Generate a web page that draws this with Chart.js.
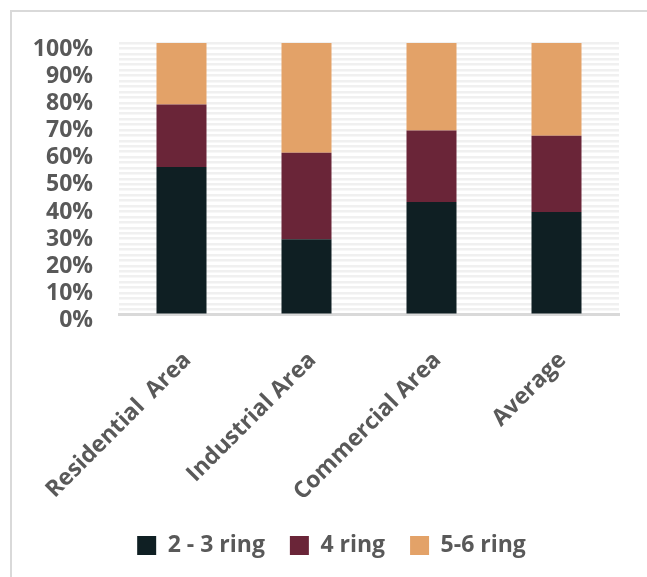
<!DOCTYPE html><html lang="en"><head>
    <meta charset="UTF-8">
    <title>Ring distribution</title>
    <script src="https://cdn.jsdelivr.net/npm/chart.js@4"></script>
    <style>
      body { margin: 0; background: #fff; overflow: hidden; }
      #frame { position: absolute; left: 10px; top: 10px; width: 700px; height: 700px;
               border-left: 2px solid #d9d9d9; border-top: 2px solid #d9d9d9; }
      #myChart { position: absolute; left: 0; top: 0; }
    </style>
  </head>
  <body>
    <div id="frame"></div>
    <canvas id="myChart" width="647" height="577"></canvas>

    <script>
      // values (percent of each area)
      const areas = ['Residential  Area', 'Industrial Area', 'Commercial Area', 'Average'];
      const ring23 = [54.4, 27.8, 41.5, 37.8];
      const ring4 = [23.0, 31.8, 26.3, 28.1];
      const ring56 = [22.6, 40.4, 32.2, 34.1];

      const textColor = '#595959';
      const font = { family: "'Open Sans', sans-serif", size: 23, weight: 'bold' };

      // nudge the legend a bit to the right, like the original
      const legendShift = {
        id: 'legendShift',
        afterLayout(chart) {
          chart.legend.left += 16;
          chart.legend.right += 16;
        }
      };

      const ctx = document.getElementById('myChart').getContext('2d');
      const myChart = new Chart(ctx, {
        type: 'bar',
        data: {
          labels: areas,
          datasets: [
            { label: '2 - 3 ring', data: ring23, backgroundColor: '#0f1f23' },
            { label: '4 ring', data: ring4, backgroundColor: '#6a2538' },
            { label: '5-6 ring', data: ring56, backgroundColor: '#e3a268' }
          ]
        },
        plugins: [legendShift],
        options: {
          responsive: false,
          animation: false,
          datasets: { bar: { categoryPercentage: 1, barPercentage: 0.4 } },
          layout: { padding: { left: 12, top: 43, right: 28, bottom: 10 } },
          plugins: {
            tooltip: { enabled: false },
            legend: {
              position: 'bottom',
              labels: {
                color: textColor,
                font: font,
                boxWidth: 19,
                boxHeight: 19,
                padding: 25
              }
            }
          },
          scales: {
            x: {
              stacked: true,
              grid: { display: false },
              border: { color: '#d9d9d9', width: 3 },
              afterFit: scale => {
                scale.paddingLeft = 0;
                scale.paddingRight = 0;
                scale.height -= 21;
              },
              ticks: {
                color: textColor,
                font: font,
                minRotation: 45,
                maxRotation: 45,
                padding: 24,
                labelOffset: 6
              }
            },
            y: {
              stacked: true,
              min: 0,
              max: 100,
              afterFit: scale => { scale.width = 107; },
              border: { display: false },
              grid: { color: '#f0f0f0', lineWidth: 2.5, drawTicks: false },
              ticks: {
                color: textColor,
                font: font,
                stepSize: 2,
                autoSkip: false,
                padding: 26,
                labelOffset: 6,
                callback: v => (v % 10 === 0 ? v + '%' : '')
              }
            }
          }
        }
      });
    </script>
  
</body></html>
